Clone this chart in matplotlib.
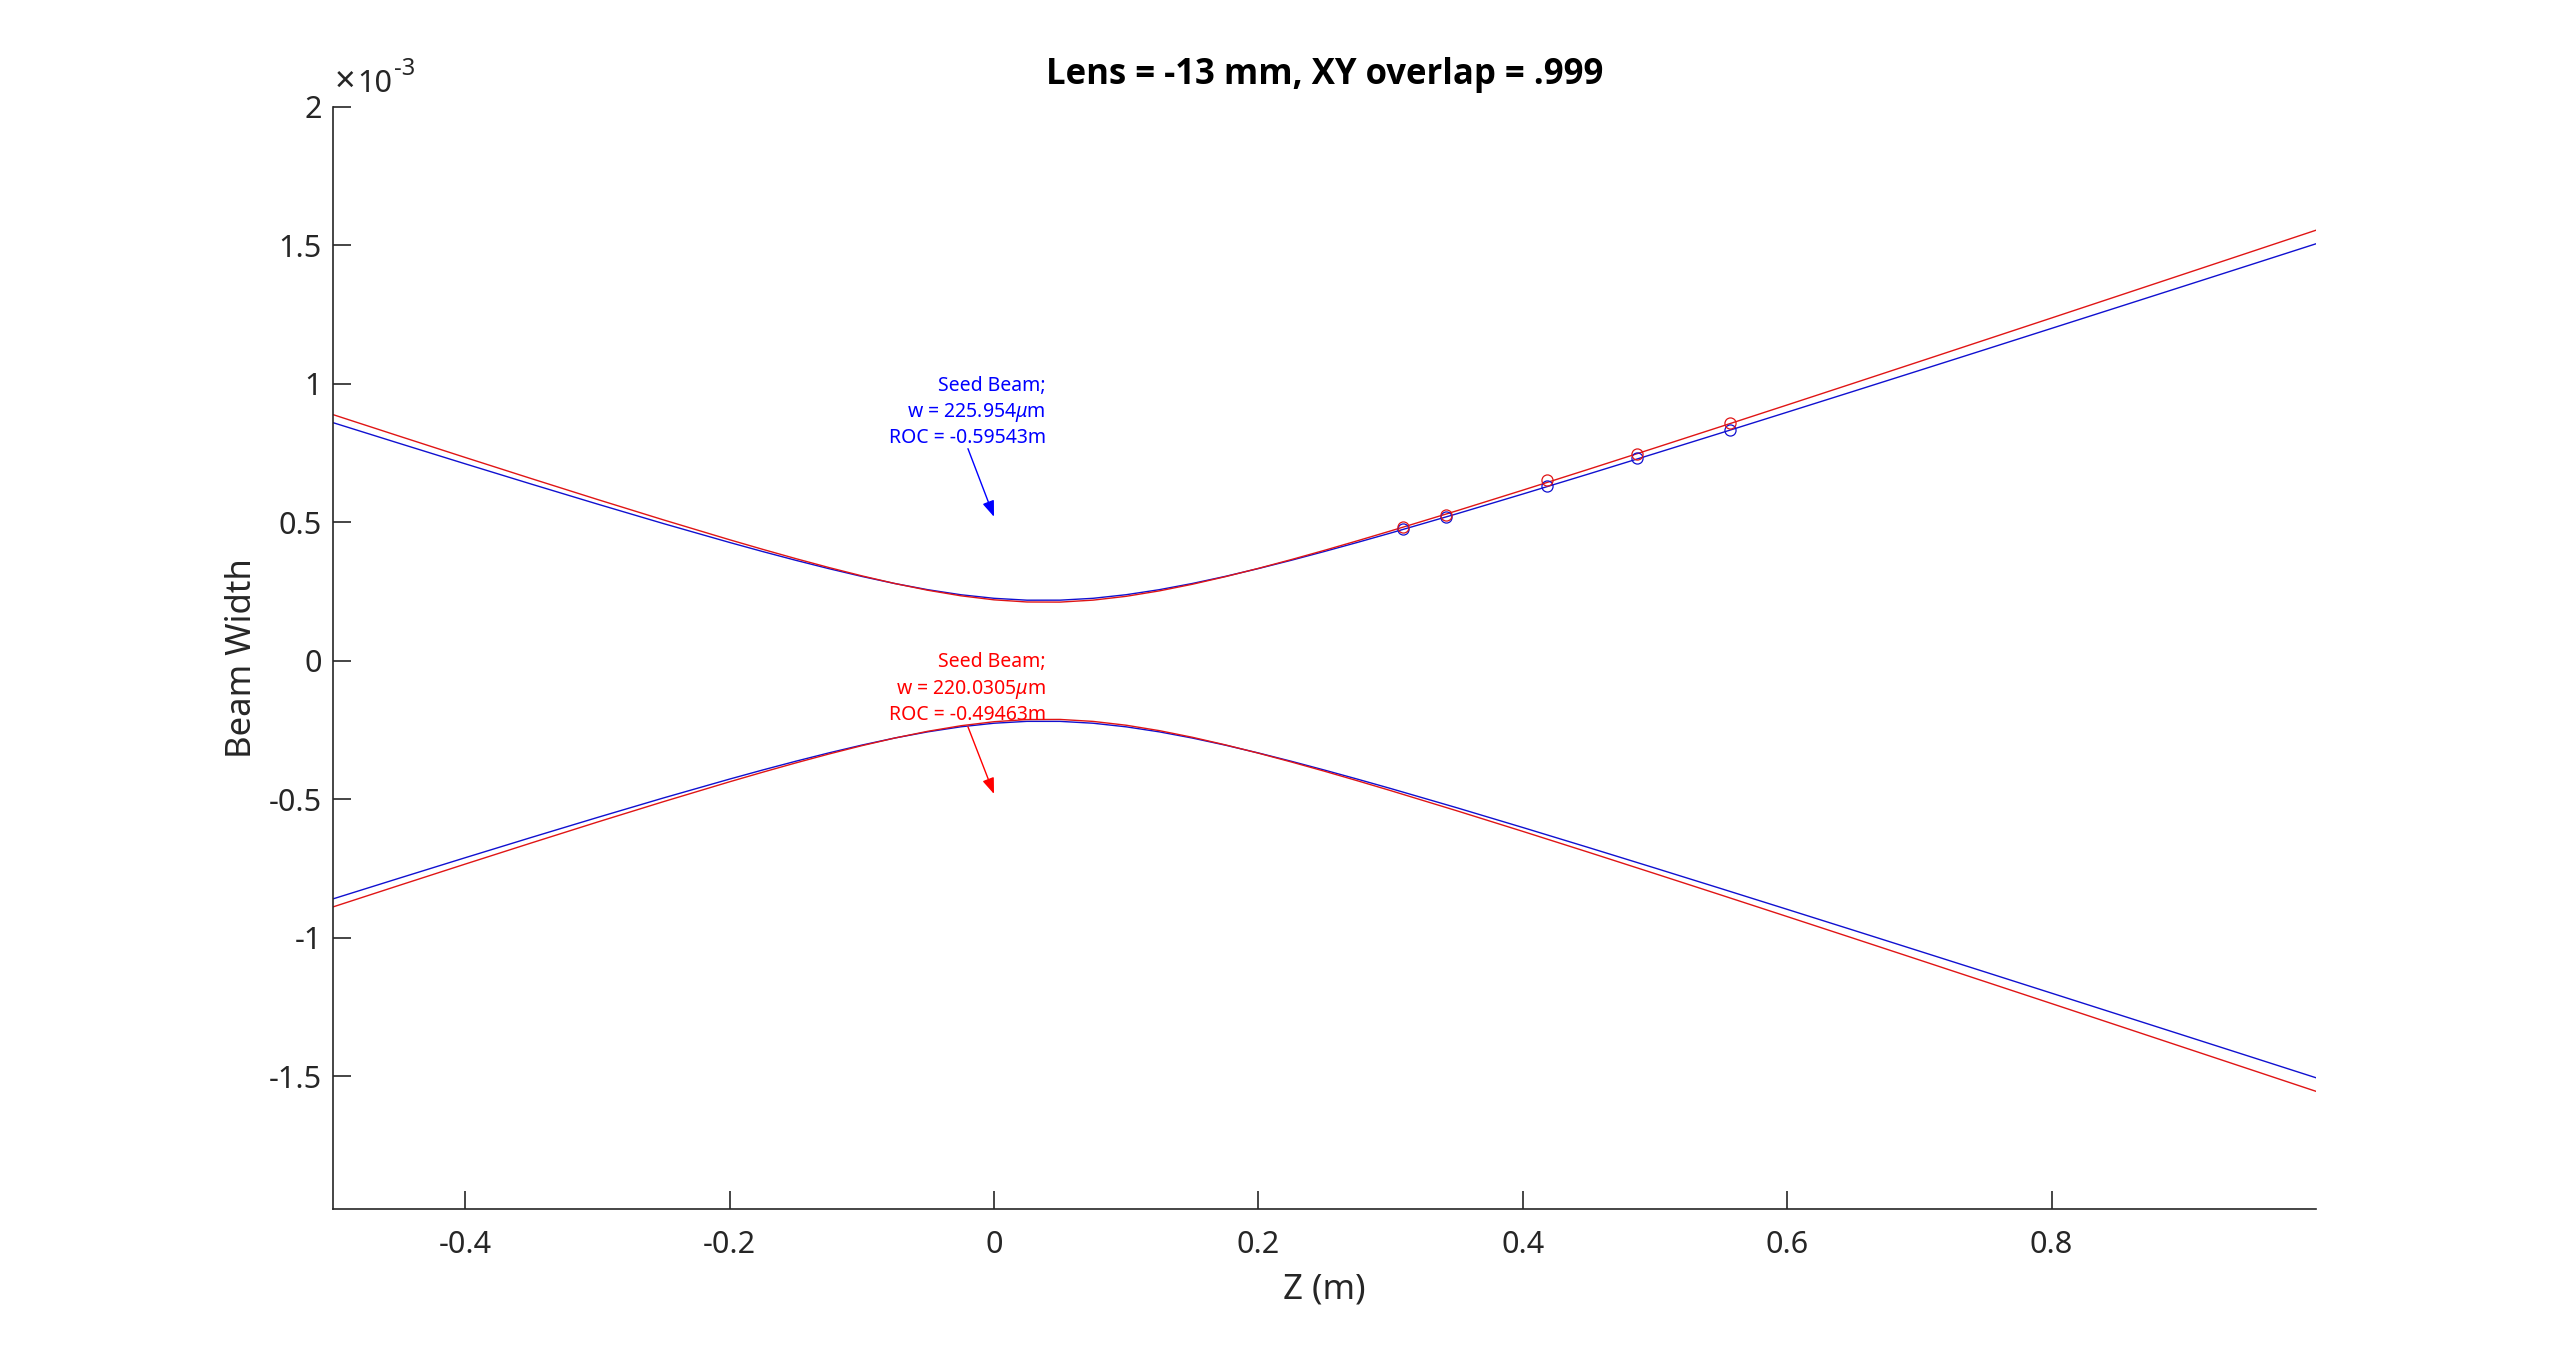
import matplotlib
matplotlib.use("Agg")
import matplotlib.pyplot as plt
from matplotlib import font_manager

plt.rcParams['font.family'] = ['Noto Sans', 'DejaVu Sans']
plt.rcParams['mathtext.fontset'] = 'custom'
plt.rcParams['mathtext.rm'] = 'Noto Sans'
plt.rcParams['mathtext.it'] = 'Noto Sans:italic'
plt.rcParams['axes.unicode_minus'] = False

# beam radius along z, in units of 1e-3 m
z = [-0.500, -0.450, -0.400, -0.350, -0.300, -0.250, -0.200, -0.175,
     -0.150, -0.125, -0.100, -0.075, -0.050, -0.025, 0.000, 0.025,
     0.050, 0.075, 0.100, 0.125, 0.150, 0.175, 0.200, 0.225,
     0.250, 0.275, 0.300, 0.350, 0.400, 0.450, 0.500, 0.550,
     0.600, 0.650, 0.700, 0.750, 0.800, 0.850, 0.900, 0.950, 1.000]
blue_w = [0.8600, 0.7854, 0.7113, 0.6381, 0.5660, 0.4954, 0.4273, 0.3945,
          0.3629, 0.3328, 0.3046, 0.2789, 0.2566, 0.2384, 0.2256, 0.2188,
          0.2189, 0.2256, 0.2386, 0.2567, 0.2791, 0.3048, 0.3330, 0.3631,
          0.3948, 0.4276, 0.4613, 0.5307, 0.6022, 0.6749, 0.7486, 0.8229,
          0.8978, 0.9730, 1.0486, 1.1244, 1.2005, 1.2767, 1.3530, 1.4294,
          1.5060]
red_w = [0.8890, 0.8114, 0.7343, 0.6580, 0.5826, 0.5088, 0.4371, 0.4025,
         0.3690, 0.3369, 0.3067, 0.2790, 0.2546, 0.2346, 0.2201, 0.2123,
         0.2119, 0.2190, 0.2328, 0.2523, 0.2763, 0.3037, 0.3337, 0.3656,
         0.3989, 0.4335, 0.4689, 0.5416, 0.6162, 0.6920, 0.7688, 0.8461,
         0.9239, 1.0021, 1.0806, 1.1593, 1.2381, 1.3172, 1.3964, 1.4756,
         1.5550]

# measured widths (circles)
meas_z = [0.3096, 0.3419, 0.4181, 0.4866, 0.5567]
blue_meas_w = [0.477, 0.519, 0.632, 0.731, 0.835]
red_meas_w = [0.483, 0.528, 0.652, 0.745, 0.857]

x_ticks = [-0.4, -0.2, 0, 0.2, 0.4, 0.6, 0.8]
y_ticks = [-1.5, -1, -0.5, 0, 0.5, 1, 1.5, 2]

title = 'Lens = -13 mm, XY overlap = .999'
blue_note = 'Seed Beam;\nw = 225.954$\\mu$m\nROC = -0.59543m'
red_note = 'Seed Beam;\nw = 220.0305$\\mu$m\nROC = -0.49463m'

W, H = 2560, 1359
AX_COL = '#262626'
BLUE_LINE = '#1010d0'
RED_LINE = '#e01515'


def has_bold(name):
    for f in font_manager.fontManager.ttflist:
        if f.name != name:
            continue
        wt = f.weight
        if isinstance(wt, str):
            wt = font_manager.weight_dict.get(wt, 400)
        if wt >= 600:
            return True
    return False


title_font = 'DejaVu Sans'
for cand in ['Open Sans', 'Noto Sans', 'Lato', 'Roboto']:
    if has_bold(cand):
        title_font = cand
        break

fig = plt.figure(figsize=(W / 100, H / 100), dpi=100)
ax = fig.add_axes([333 / W, 1 - 1209 / H, 1983 / W, 1102 / H])

ax.plot(z, blue_w, color=BLUE_LINE, lw=1.0)
ax.plot(z, red_w, color=RED_LINE, lw=1.0)
ax.plot(z, [-w for w in blue_w], color=BLUE_LINE, lw=1.0)
ax.plot(z, [-w for w in red_w], color=RED_LINE, lw=1.0)

ax.plot(meas_z, blue_meas_w, 'o', mfc='none', mec=BLUE_LINE, ms=8, mew=0.9)
ax.plot(meas_z, red_meas_w, 'o', mfc='none', mec=RED_LINE, ms=8, mew=0.9)

ax.set_xlim(-0.5, 1.0)
ax.set_ylim(-1.98, 2.0)
ax.set_xticks(x_ticks)
ax.set_yticks(y_ticks)
ax.set_xticklabels([f'{v:g}' for v in x_ticks])
ax.set_yticklabels([f'{v:g}' for v in y_ticks])

for side in ['top', 'right']:
    ax.spines[side].set_visible(False)
for side in ['left', 'bottom']:
    ax.spines[side].set_color(AX_COL)
    ax.spines[side].set_linewidth(1.2)

ax.tick_params(direction='in', length=13, width=1.2, colors=AX_COL,
               labelsize=22)
ax.tick_params(axis='x', pad=15)
ax.tick_params(axis='y', pad=8)

ax.set_xlabel('Z (m)', fontsize=25, color=AX_COL)
ax.set_ylabel('Beam Width', fontsize=25, color=AX_COL)
ax.xaxis.label.set_va('center')
ax.yaxis.label.set_va('center')
ax.xaxis.set_label_coords(0.5, -0.0735)
ax.yaxis.set_label_coords(-0.0459, 0.5)

# exponent label above the y axis
fig.text(335 / W, 1 - 92 / H, '\u00d7', fontsize=26, color=AX_COL,
         ha='left', va='baseline')
fig.text(357 / W, 1 - 92 / H, '10', fontsize=22, color=AX_COL,
         ha='left', va='baseline')
fig.text(394 / W, 1 - 75 / H, '-3', fontsize=17, color=AX_COL,
         ha='left', va='baseline')

fig.text(1324.5 / W, 1 - 75 / H, title, fontsize=25, fontweight='bold',
         family=[title_font, 'DejaVu Sans'], ha='center', va='center',
         color='k')

# beam annotations
arrow = dict(arrowstyle='-|>,head_length=0.8,head_width=0.3', lw=1.0,
             shrinkA=0, shrinkB=0, mutation_scale=12)
ax.annotate('', xy=(0.0, 0.52), xytext=(-0.0197, 0.766),
            arrowprops=dict(arrow, color='b'))
ax.text(0.0393, 1.03, blue_note, ha='right', va='top', color='b',
        fontsize=14, linespacing=1.32)
ax.annotate('', xy=(0.0, -0.481), xytext=(-0.0197, -0.2385),
            arrowprops=dict(arrow, color='r'))
ax.text(0.0393, 0.03, red_note, ha='right', va='top', color='r',
        fontsize=14, linespacing=1.32)

fig.savefig('out.png', dpi=100)
